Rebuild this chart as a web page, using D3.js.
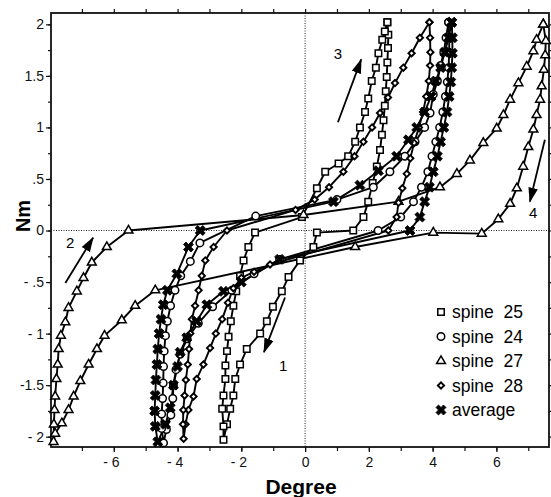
<!DOCTYPE html>
<html>
<head>
<meta charset="utf-8">
<script src="https://cdn.jsdelivr.net/npm/d3@7"></script>
<style>
  body { margin: 0; background: #fff; }
  svg { display: block; font-family: "Liberation Sans", Arial, sans-serif; }
</style>
</head>
<body>
<svg id="chart"></svg>
<script>
// ---- data (Degree, Nm), each series is one closed hysteresis loop ----
const spine25 = [
  [2.58,2.02],[2.61,1.9],[2.6,1.77],[2.58,1.63],[2.56,1.49],[2.53,1.35],[2.5,1.21],[2.46,1.07],
  [2.41,0.93],[2.35,0.78],[2.25,0.62],[2.12,0.46],[1.98,0.28],[1.83,0.13],[1.51,0.0],
  [0.37,-0.02],[0.26,-0.16],[-0.16,-0.29],[-0.52,-0.45],[-0.73,-0.59],[-1.01,-0.74],[-1.2,-0.88],
  [-1.41,-1.0],[-1.83,-1.15],[-2.04,-1.3],[-2.19,-1.44],[-2.25,-1.6],[-2.35,-1.73],[-2.45,-1.88],
  [-2.56,-2.03],[-2.56,-1.9],[-2.6,-1.73],[-2.56,-1.6],[-2.5,-1.44],[-2.5,-1.31],[-2.45,-1.17],
  [-2.4,-1.03],[-2.33,-0.88],[-2.25,-0.73],[-2.16,-0.59],[-2.04,-0.44],[-1.93,-0.29],[-1.78,-0.16],
  [-1.57,-0.02],[-0.1,0.13],[0.37,0.41],[0.63,0.57],[1.05,0.65],[1.35,0.72],[1.57,0.86],[1.72,1.0],
  [1.88,1.15],[1.98,1.28],[2.09,1.45],[2.22,1.58],[2.3,1.72],[2.42,1.85],[2.5,1.93],[2.58,2.02]
];
const spine24 = [
  [4.5,2.02],[4.52,1.87],[4.52,1.73],[4.5,1.58],[4.46,1.44],[4.4,1.3],[4.32,1.15],[4.22,1.0],
  [4.1,0.86],[3.98,0.72],[3.85,0.57],[3.65,0.42],[3.4,0.28],[3.0,0.13],[2.29,0.0],
  [-0.8,-0.28],[-1.6,-0.42],[-2.3,-0.58],[-2.9,-0.74],[-3.35,-0.9],[-3.7,-1.05],[-3.92,-1.2],
  [-4.05,-1.35],[-4.13,-1.5],[-4.15,-1.63],[-4.21,-1.79],[-4.35,-1.93],[-4.44,-2.06],
  [-4.5,-1.92],[-4.5,-1.78],[-4.47,-1.63],[-4.45,-1.48],[-4.44,-1.32],[-4.42,-1.17],[-4.38,-1.02],
  [-4.32,-0.88],[-4.22,-0.73],[-4.08,-0.58],[-3.9,-0.44],[-3.6,-0.3],[-3.3,-0.12],[-1.55,0.14],
  [1.0,0.3],[2.14,0.42],[2.66,0.57],[3.13,0.72],[3.45,0.86],[3.75,1.0],[3.92,1.14],[4.02,1.32],
  [4.15,1.45],[4.25,1.6],[4.35,1.73],[4.42,1.87],[4.5,2.02]
];
const spine27 = [
  [7.47,2.0],[7.55,1.84],[7.53,1.7],[7.49,1.56],[7.42,1.4],[7.37,1.27],[7.26,1.12],[7.16,0.98],
  [7.0,0.81],[6.84,0.62],[6.64,0.41],[6.43,0.26],[6.06,0.11],[5.54,-0.03],[4.02,-0.02],[1.57,-0.16],
  [-4.7,-0.58],[-5.33,-0.73],[-5.75,-0.87],[-6.29,-1.02],[-6.53,-1.15],[-6.79,-1.3],[-7.05,-1.46],
  [-7.26,-1.61],[-7.42,-1.74],[-7.63,-1.87],[-7.84,-1.97],[-7.89,-2.05],
  [-7.88,-1.88],[-7.86,-1.74],[-7.84,-1.61],[-7.8,-1.44],[-7.76,-1.3],[-7.73,-1.15],[-7.66,-1.02],
  [-7.52,-0.89],[-7.42,-0.75],[-7.16,-0.59],[-6.95,-0.46],[-6.69,-0.31],[-6.22,-0.16],[-5.54,0.0],
  [-0.05,0.15],[2.93,0.28],[4.23,0.42],[4.76,0.55],[5.17,0.68],[5.59,0.85],[6.01,0.99],[6.22,1.12],
  [6.43,1.27],[6.69,1.43],[6.95,1.59],[7.16,1.74],[7.26,1.85],[7.47,2.0]
];
const spine28 = [
  [3.9,2.02],[3.92,1.87],[3.93,1.73],[3.92,1.6],[3.88,1.45],[3.8,1.3],[3.7,1.15],[3.57,1.0],
  [3.42,0.85],[3.3,0.7],[3.19,0.55],[3.05,0.41],[2.93,0.27],[2.87,0.13],[2.61,0.0],
  [-1.1,-0.33],[-1.6,-0.4],[-2.0,-0.46],[-2.25,-0.56],[-2.42,-0.7],[-2.6,-0.86],[-2.8,-1.0],
  [-2.98,-1.14],[-3.19,-1.3],[-3.4,-1.44],[-3.5,-1.61],[-3.66,-1.74],[-3.75,-1.88],[-3.81,-2.02],
  [-3.83,-1.88],[-3.82,-1.74],[-3.78,-1.6],[-3.74,-1.45],[-3.68,-1.3],[-3.64,-1.15],[-3.6,-1.0],
  [-3.55,-0.86],[-3.45,-0.73],[-3.34,-0.58],[-3.24,-0.44],[-3.13,-0.29],[-2.87,-0.16],[-2.45,0.0],
  [-0.3,0.2],[0.3,0.3],[0.75,0.42],[1.2,0.57],[1.55,0.72],[1.83,0.86],[2.1,1.0],[2.35,1.14],
  [2.6,1.29],[2.82,1.43],[3.08,1.58],[3.34,1.72],[3.6,1.87],[3.9,2.02]
];
const average = [
  [4.6,2.02],[4.62,1.87],[4.62,1.72],[4.6,1.58],[4.57,1.44],[4.52,1.3],[4.45,1.15],[4.35,1.0],
  [4.25,0.86],[4.15,0.72],[4.02,0.57],[3.9,0.42],[3.75,0.28],[3.6,0.13],[3.29,0.0],
  [-0.8,-0.28],[-2.0,-0.5],[-2.56,-0.59],[-3.08,-0.72],[-3.4,-0.88],[-3.71,-1.04],[-3.92,-1.18],
  [-4.0,-1.32],[-4.13,-1.5],[-4.23,-1.72],[-4.38,-1.88],[-4.62,-2.05],
  [-4.7,-1.9],[-4.72,-1.75],[-4.7,-1.6],[-4.68,-1.45],[-4.65,-1.3],[-4.62,-1.15],[-4.58,-1.0],
  [-4.52,-0.86],[-4.45,-0.72],[-4.32,-0.58],[-4.02,-0.42],[-3.66,-0.16],[-3.29,0.0],
  [0.89,0.28],[1.72,0.44],[2.3,0.58],[2.87,0.72],[3.24,0.88],[3.5,1.0],[3.75,1.15],[3.95,1.3],
  [4.1,1.45],[4.25,1.58],[4.38,1.73],[4.5,1.87],[4.6,2.02]
];

const seriesNames = ['spine  25', 'spine  24', 'spine  27', 'spine  28', 'average'];
const seriesData = [spine25, spine24, spine27, spine28, average];

const xTicks = [-6, -4, -2, 0, 2, 4, 6];
const xTickLabels = ['- 6', '- 4', '- 2', '0', '2', '4', '6'];
const yTicks = [-2, -1.5, -1, -0.5, 0, 0.5, 1, 1.5, 2];
const yTickLabels = ['- 2', '-1.5', '- 1', '- .5', '0', '.5', '1', '1.5', '2'];

// arrows: [x1, y1, x2, y2] in data units, and their numbers
const arrows = [[-0.63,-0.65,-1.29,-1.18],[-7.52,-0.51,-6.65,-0.07],[1.03,1.05,1.76,1.66],[7.52,0.88,7.05,0.28]];
const arrowLabels = [['1',-0.69,-1.31],['2',-7.37,-0.12],['3',1.03,1.72],['4',7.15,0.17]];

// ---- layout ----
const width = 551, height = 497;
const margin = {top: 13, right: 2, bottom: 50, left: 51};
const w = width - margin.left - margin.right;
const h = height - margin.top - margin.bottom;

const svg = d3.select('#chart').attr('width', width).attr('height', height);
const chart = svg.append('g').attr('transform', `translate(${margin.left},${margin.top})`);

const x = d3.scaleLinear().domain([-7.97, 7.65]).range([0, w]);
const y = d3.scaleLinear().domain([-2.1, 2.11]).range([h, 0]);

// zero lines, dotted
chart.append('line')
    .attr('x1', x(0)).attr('x2', x(0)).attr('y1', 0).attr('y2', h)
    .attr('stroke', '#222').attr('stroke-width', 1).attr('stroke-dasharray', '1,1.5');
chart.append('line')
    .attr('x1', 0).attr('x2', w).attr('y1', y(0)).attr('y2', y(0))
    .attr('stroke', '#222').attr('stroke-width', 1).attr('stroke-dasharray', '1,1.5');

// axes
const minorX = d3.range(-7, 8, 1);
const minorY = d3.range(-2, 2.01, 0.25);

chart.append('g').attr('transform', `translate(0,${h})`)
    .call(d3.axisBottom(x).tickValues(minorX).tickSize(4).tickFormat(''))
    .call(g => g.select('.domain').remove());
chart.append('g')
    .call(d3.axisTop(x).tickValues(minorX).tickSize(4).tickFormat(''))
    .call(g => g.select('.domain').remove());
chart.append('g')
    .call(d3.axisLeft(y).tickValues(minorY).tickSize(3).tickFormat(''))
    .call(g => g.select('.domain').remove());
chart.append('g')
    .call(d3.axisLeft(y).tickValues(yTicks).tickSize(5).tickPadding(2)
      .tickFormat((d, i) => yTickLabels[i]))
    .call(g => g.select('.domain').remove())
    .call(g => g.selectAll('text').attr('font-size', 14).attr('fill', '#111')
      .attr('font-family', '"Liberation Sans", Arial, sans-serif'));
chart.append('g').attr('transform', `translate(${w},0)`)
    .call(d3.axisRight(y).tickValues(minorY).tickSize(3).tickFormat(''))
    .call(g => g.select('.domain').remove());

const xLab = chart.append('g').attr('transform', `translate(0,${h})`)
    .call(d3.axisBottom(x).tickValues(xTicks).tickSize(5).tickPadding(5)
      .tickFormat((d, i) => xTickLabels[i]))
    .call(g => g.select('.domain').remove());
xLab.selectAll('text').attr('font-size', 14).attr('fill', '#111')
    .attr('font-family', '"Liberation Sans", Arial, sans-serif')
    .attr('dx', d => d < 0 ? -3 : 0);

chart.selectAll('.tick line').attr('stroke', '#111').attr('stroke-width', 1.2);

// frame
chart.append('rect')
    .attr('width', w).attr('height', h)
    .attr('fill', 'none').attr('stroke', '#111').attr('stroke-width', 1.8);

// axis titles
svg.append('text')
    .attr('x', 301).attr('y', 494)
    .attr('text-anchor', 'middle')
    .attr('font-size', 21).attr('font-weight', 'bold')
    .text('Degree');
svg.append('text')
    .attr('transform', 'translate(30,216) rotate(-90)')
    .attr('text-anchor', 'middle')
    .attr('font-size', 20).attr('font-weight', 'bold')
    .text('Nm');

// loops
const line = d3.line().x(d => x(d[0])).y(d => y(d[1]));
chart.selectAll('.loop')
  .data(seriesData)
  .join('path')
    .attr('class', 'loop')
    .attr('d', line)
    .attr('fill', 'none')
    .attr('stroke', '#000')
    .attr('stroke-width', 1.9)
    .attr('stroke-linejoin', 'round');

const symbols = [
  d3.symbol().type(d3.symbolSquare).size(42),
  d3.symbol().type(d3.symbolCircle).size(44),
  d3.symbol().type(d3.symbolTriangle).size(34),
  d3.symbol().type(d3.symbolSquare).size(20),
  d3.symbol().type(d3.symbolCross).size(62)
];
const rotations = [0, 0, 0, 45, 45];

function drawMarker(sel, i) {
  if (i === 4) {
    sel.attr('d', symbols[i]()).attr('fill', '#000').attr('stroke', '#000').attr('stroke-width', 0.8);
  } else {
    sel.attr('d', symbols[i]()).attr('fill', '#fff').attr('stroke', '#000')
      .attr('stroke-width', i === 3 ? 1.9 : 1.5);
  }
}

seriesData.forEach((data, i) => {
  chart.append('g').selectAll('path')
    .data(data)
    .join('path')
      .attr('transform', d => `translate(${x(d[0])},${y(d[1])}) rotate(${rotations[i]})`)
      .call(drawMarker, i);
});

// arrows
svg.append('defs').append('marker')
    .attr('id', 'head')
    .attr('viewBox', '0 0 14 10')
    .attr('refX', 13).attr('refY', 5)
    .attr('markerWidth', 15).attr('markerHeight', 11)
    .attr('markerUnits', 'userSpaceOnUse')
    .attr('orient', 'auto')
  .append('path')
    .attr('d', 'M0,0.5 L14,5 L0,9.5 Z')
    .attr('fill', '#000');

chart.selectAll('.arrow')
  .data(arrows)
  .join('line')
    .attr('class', 'arrow')
    .attr('x1', d => x(d[0])).attr('y1', d => y(d[1]))
    .attr('x2', d => x(d[2])).attr('y2', d => y(d[3]))
    .attr('stroke', '#000').attr('stroke-width', 1.8)
    .attr('marker-end', 'url(#head)');

chart.selectAll('.alabel')
  .data(arrowLabels)
  .join('text')
    .attr('class', 'alabel')
    .attr('x', d => x(d[1])).attr('y', d => y(d[2]))
    .attr('dy', '0.36em')
    .attr('text-anchor', 'middle')
    .attr('font-size', 15)
    .text(d => d[0]);

// legend
const legend = svg.append('g').attr('transform', 'translate(441,312)');
seriesNames.forEach((name, i) => {
  const row = legend.append('g').attr('transform', `translate(0,${i * 24.5})`);
  row.append('path')
    .attr('transform', `rotate(${rotations[i]})`)
    .call(drawMarker, i);
  row.append('text')
    .attr('x', 11).attr('dy', '0.36em')
    .attr('font-size', 17.5)
    .style('white-space', 'pre')
    .text(name);
});
</script>
</body>
</html>
